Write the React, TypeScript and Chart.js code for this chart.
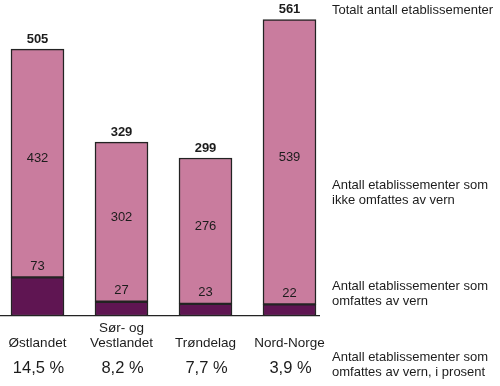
import React, { useEffect, useRef } from "react";
import { Chart, registerables } from "chart.js";

Chart.register(...registerables);

const categories: string[][] = [["Østlandet"], ["Sør- og", "Vestlandet"], ["Trøndelag"], ["Nord-Norge"]];
const protectedCounts = [73, 27, 23, 22];
const notProtectedCounts = [432, 302, 276, 539];
const totals = [505, 329, 299, 561];
const percentLabels = ["14,5 %", "8,2 %", "7,7 %", "3,9 %"];
const notes: string[][] = [
  ["Totalt antall etablissementer"],
  ["Antall etablissementer som", "ikke omfattes av vern"],
  ["Antall etablissementer som", "omfattes av vern"],
  ["Antall etablissementer som", "omfattes av vern, i prosent"],
];

const FONT = "'Liberation Sans', Arial, Helvetica, sans-serif";
const TEXT = "#1c1c1c";

const labelsPlugin = {
  id: "labelsPlugin",
  afterDatasetsDraw(chart: any) {
    const ctx = chart.ctx as CanvasRenderingContext2D;
    const area = chart.chartArea;
    const m0 = chart.getDatasetMeta(0).data;
    const m1 = chart.getDatasetMeta(1).data;
    ctx.save();
    ctx.fillStyle = TEXT;
    ctx.textAlign = "center";
    ctx.textBaseline = "middle";
    for (let i = 0; i < totals.length; i++) {
      const b0: any = m0[i];
      const b1: any = m1[i];
      ctx.font = `13px ${FONT}`;
      ctx.fillText(String(notProtectedCounts[i]), b1.x, (b1.y + b1.base) / 2 - 5);
      ctx.fillText(String(protectedCounts[i]), b0.x, b0.y - 11);
      ctx.font = `bold 13px ${FONT}`;
      ctx.fillText(String(totals[i]), b1.x, b1.y - 10);
      ctx.font = `13.5px ${FONT}`;
      const lines = categories[i];
      lines.forEach((ln, k) => {
        const y = area.bottom + 27 - (lines.length - 1 - k) * 15;
        ctx.fillText(ln, b1.x, y);
      });
      ctx.font = `16.5px ${FONT}`;
      ctx.fillText(percentLabels[i], b1.x + 1, area.bottom + 52);
    }
    ctx.textAlign = "left";
    ctx.font = `13px ${FONT}`;
    const noteY = [area.top + 10, area.top + 185, area.top + 286, area.top + 357];
    notes.forEach((lines, j) => {
      lines.forEach((ln, k) => {
        ctx.fillText(ln, area.right + 13, noteY[j] + k * 15);
      });
    });
    ctx.restore();
  },
};

export default function App() {
  const ref = useRef<HTMLCanvasElement | null>(null);
  useEffect(() => {
    if (!ref.current) return;
    const chart = new Chart(ref.current, {
      type: "bar",
      data: {
        datasets: [
          {
            label: "Omfattes av vern",
            data: protectedCounts.map((v, i) => ({ x: i, y: v })),
            backgroundColor: "#5f1552",
            borderColor: "#232323",
            borderWidth: 1.5,
            borderSkipped: false,
            barThickness: 53,
          },
          {
            label: "Ikke omfattes av vern",
            data: notProtectedCounts.map((v, i) => ({ x: i, y: v })),
            backgroundColor: "#c97c9e",
            borderColor: "#232323",
            borderWidth: 1.5,
            borderSkipped: false,
            barThickness: 53,
          },
        ],
      },
      options: {
        animation: false,
        responsive: false,
        devicePixelRatio: 1,
        layout: { padding: { left: 0, right: 181, top: 0, bottom: 70 } },
        plugins: { legend: { display: false }, tooltip: { enabled: false } },
        scales: {
          x: {
            type: "linear",
            stacked: true,
            offset: false,
            min: -0.44643,
            max: 3.35119,
            grid: { display: false, drawTicks: false, offset: false },
            ticks: { display: false },
            border: { display: true, color: "#232323", width: 1.2 },
          },
          y: {
            stacked: true,
            display: false,
            min: 0,
            max: 598,
          },
        },
      } as any,
      plugins: [labelsPlugin],
    });
    return () => chart.destroy();
  }, []);
  return (
    <div style={{ position: "absolute", left: 0, top: 0, width: 500, height: 386, background: "#fff" }}>
      <canvas ref={ref} width={500} height={386} />
    </div>
  );
}
